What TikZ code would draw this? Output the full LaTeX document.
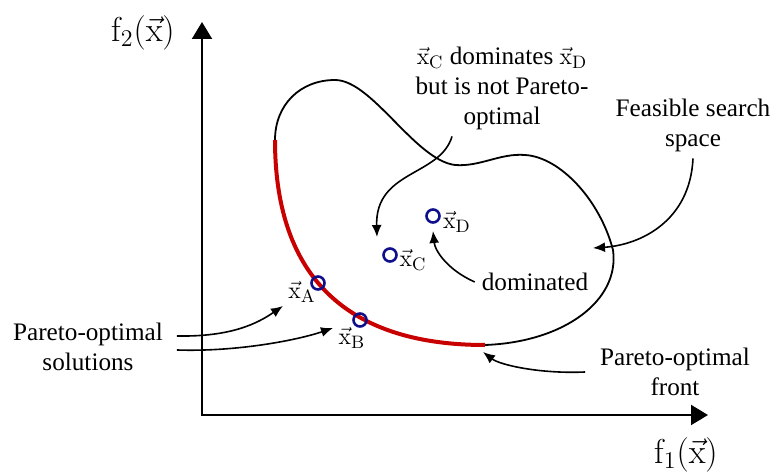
\documentclass[tikz,border=0pt]{standalone}
\usepackage[no-math]{fontspec}
\setmainfont{Liberation Serif}
\usepackage{amsmath}
\usetikzlibrary{arrows.meta}

\definecolor{frontred}{RGB}{200,0,0}
\definecolor{ptblue}{RGB}{15,15,140}

\tikzset{
  axis/.style={{Triangle[length=8.5pt,width=10pt]}-{Triangle[length=8.5pt,width=10pt]}, line width=1pt},
  blob/.style={line width=0.9pt},
  front/.style={frontred, line width=2pt},
  arr/.style={-{Latex[length=6pt,width=5pt]}, line width=0.8pt},
  pt/.style={circle, draw=ptblue, line width=1.3pt, minimum size=6.5pt, inner sep=0pt},
  txt/.style={align=center},
}

\begin{document}
\begin{tikzpicture}[x=0.5pt,y=-0.5pt,font=\fontsize{12.6}{15}\selectfont]
\useasboundingbox (0,0) rectangle (772,475);

% axes
\draw[axis] (202,22) -- (202,415) -- (708,415);
\node (f2) at (143,33) {\fontsize{17.28}{20}\selectfont $\mathrm{f}_2(\vec{\mathrm{x}})$};
\node (f1) at (686,455) {\fontsize{17.28}{20}\selectfont $\mathrm{f}_1(\vec{\mathrm{x}})$};

% feasible region
\draw[blob] (275,140) .. controls (275,105) and (300,80) .. (335,80)
  .. controls (372,80) and (415,160) .. (455,165)
  .. controls (480,167) and (500,153) .. (525,155)
  .. controls (560,157) and (600,200) .. (613,250)
  .. controls (620,300) and (565,342) .. (485,345);
\draw[front] (485,345) .. controls (340,345) and (275,270) .. (275,140);

% solutions
\node[pt] (xA) at (318,283) {};
\node[pt] (xB) at (360,320) {};
\node[pt] (xC) at (390,255) {};
\node[pt] (xD) at (433,216) {};
\node (lA) at (302,292) {$\vec{\mathrm{x}}_{\mathrm{A}}$};
\node (lB) at (352,338) {$\vec{\mathrm{x}}_{\mathrm{B}}$};
\node (lC) at (413,260) {$\vec{\mathrm{x}}_{\mathrm{C}}$};
\node (lD) at (457,222) {$\vec{\mathrm{x}}_{\mathrm{D}}$};

% labels
\node[txt] (note) at (502,88) {$\vec{\mathrm{x}}_{\mathrm{C}}$ dominates $\vec{\mathrm{x}}_{\mathrm{D}}$\\but is not Pareto-\\optimal};
\node[txt] (feas) at (693,125) {Feasible search\\space};
\node[txt] (dom) at (535,282) {dominated};
\node[txt] (sol) at (88,347) {Pareto-optimal\\solutions};
\node[txt] (pfront) at (675,372) {Pareto-optimal\\front};

\coordinate (cTip) at (377,237);
\coordinate (dTip) at (433,231);
\coordinate (fTip) at (593,248);
\coordinate (pTip) at (483,352);
\coordinate (aTip) at (283,306);
\coordinate (bTip) at (333,328);

% arrows
\draw[arr] ([xshift=-25pt]note.south) .. controls +(-12,40) and +(-2,-67) .. (cTip);
\draw[arr] (dom.west) .. controls +(-27,-12) and +(2,20) .. (dTip);
\draw[arr] (feas.south) .. controls +(-3,63) and +(47,-3) .. (fTip);
\draw[arr] ([xshift=-4pt]pfront.west) .. controls +(-45,2) and +(17,13) .. (pTip);
\draw[arr] ([shift={(3.5pt,5.5pt)}]sol.east) .. controls +(55,1) and +(-25,17) .. (aTip);
\draw[arr] ([shift={(3.5pt,-1.5pt)}]sol.east) .. controls +(60,2) and +(-35,12) .. (bTip);
\end{tikzpicture}
\end{document}
